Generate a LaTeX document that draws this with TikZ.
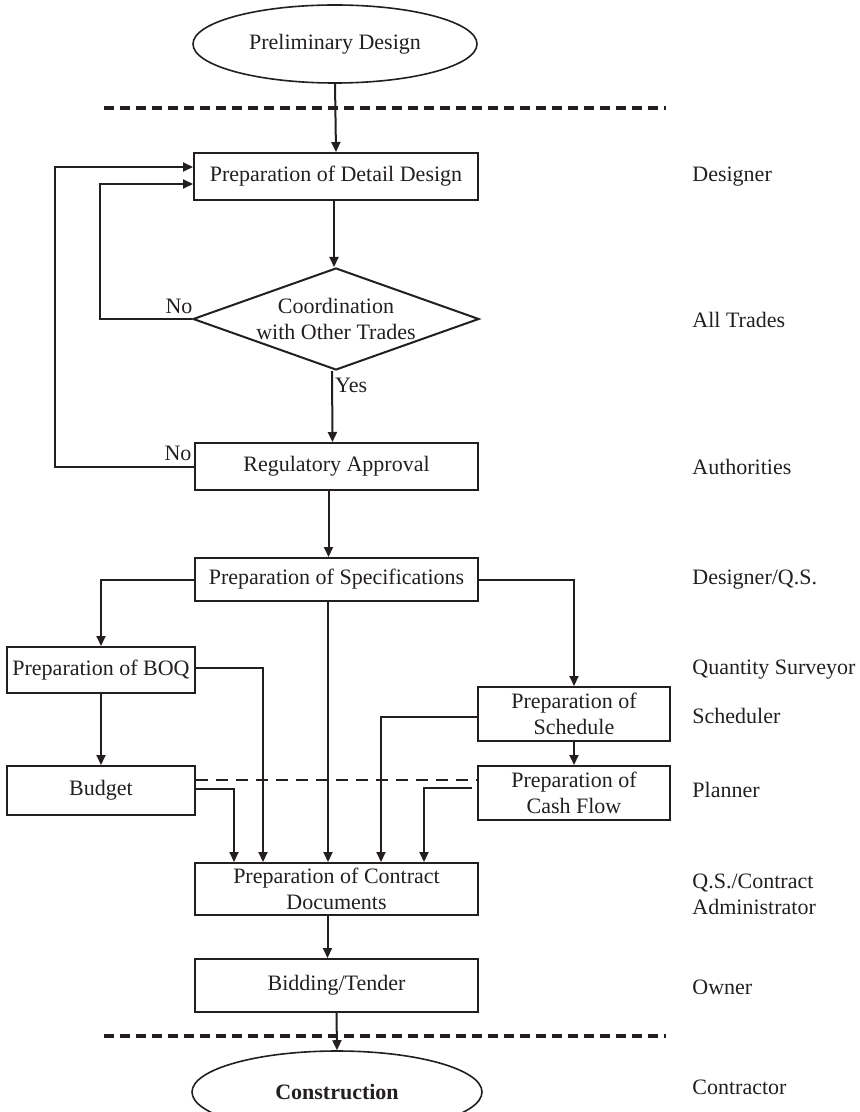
\documentclass[tikz,border=0pt]{standalone}
\usepackage{fontspec}
\setmainfont{Liberation Serif}
\usetikzlibrary{arrows.meta, positioning, shapes.geometric}
\definecolor{myink}{RGB}{35, 31, 32}

\begin{document}
\begin{tikzpicture}[x=0.5pt, y=-0.5pt,
    every node/.style={font=\fontsize{11}{13}\selectfont, text=myink, inner sep=1pt},
    box/.style={draw=myink, line width=1pt, align=center, minimum width=141.5pt, minimum height=23.5pt},
    sidebox/.style={box, minimum width=94pt},
    rightbox/.style={box, minimum width=96pt, minimum height=27pt},
    terminal/.style={draw=myink, line width=0.8pt, ellipse, minimum width=142pt, minimum height=39pt},
    decision/.style={draw=myink, line width=1pt, diamond, minimum width=143pt, minimum height=51pt, inner sep=0pt},
    link/.style={draw=myink, line width=1pt, -{Triangle[length=5pt, width=4.5pt]}},
    phase/.style={draw=myink, line width=2pt, dash pattern=on 5pt off 3pt},
    plan/.style={draw=myink, line width=1pt, dash pattern=on 6pt off 4pt}]

    \useasboundingbox (0,0) rectangle (860,1112);

    % Design stage
    \node[terminal] (PD) at (335,44) {Preliminary Design};
    \draw[phase] (104,108) -- (666,108);

    \node[box, minimum width=142pt] (DD) at (336,176.5) {Preparation of Detail Design};
    \node[decision] (CO) at (336,319) {};
    \node[align=center] at (CO) {Coordination\\with Other Trades};
    \node[box] (RA) at (336.5,466.5) {Regulatory Approval};

    \draw[link] (PD.south) -- (DD.north);
    \draw[link] ([xshift=-1pt]DD.south) -- ([xshift=-1pt]CO.north);
    \draw[link] ([xshift=-2pt]CO.south) -- ([xshift=-2pt]RA.north) node[pos=0.2, right] {Yes};

    % Loops back to the detail design
    \draw[link] (CO.west) -- ++(-92,0) |- ([yshift=-3.75pt]DD.west);
    \draw[link] (RA.west) -- ++(-139,0) |- ([yshift=4.75pt]DD.west);
    \node (NO1) at (179,306) {No};
    \node (NO2) at (178,453) {No};

    % Specification stage
    \node[box, minimum height=21.5pt] (SP) at (336.5,579.5) {Preparation of Specifications};
    \draw[link] ([xshift=-4pt]RA.south) -- ([xshift=-4pt]SP.north);

    \node[sidebox, minimum height=23pt] (BQ) at (101,670) {Preparation of BOQ};
    \node[sidebox, minimum height=24.5pt] (BU) at (101,790.5) {Budget};
    \node[rightbox] (SC) at (574,714) {Preparation of\\Schedule};
    \node[rightbox] (CF) at (574,793) {Preparation of\\Cash Flow};

    \draw[link] (SP.west) -| (BQ.north);
    \draw[link] (SP.east) -| (SC.north);
    \draw[link] (BQ) -- (BU);
    \draw[link] (SC) -- (CF);
    \draw[plan] ([yshift=5.25pt]BU.east) -- ([yshift=5.25pt]BU.east -| CF.west);

    % Contract stage
    \node[box, minimum height=26pt] (CD) at (336.5,889) {Preparation of Contract\\Documents};
    \draw[link] ([yshift=0.75pt]BU.east) -| ([xshift=-51.25pt]CD.north);
    \draw[link] ([yshift=1pt]BQ.east) -| ([xshift=-36.75pt]CD.north);
    \draw[link] ([xshift=-4.25pt]SP.south) -- ([xshift=-4.25pt]CD.north);
    \draw[link] ([yshift=-1.5pt]SC.west) -| ([xshift=22.25pt]CD.north);
    \draw[link] ([xshift=-2.5pt,yshift=2.5pt]CF.west) -| ([xshift=43.75pt]CD.north);

    \node[box, minimum height=26.5pt] (BT) at (336.5,985.5) {Bidding/Tender};
    \draw[link] ([xshift=-4.5pt]CD.south) -- ([xshift=-4.5pt]BT.north);

    \draw[phase] (104,1036) -- (666,1036);
    \node[terminal, minimum width=145pt, minimum height=41pt, font=\fontsize{11}{13}\selectfont\bfseries] (CN) at (337,1092) {Construction};
    \draw[link] (BT.south) -- (CN.north);

    % Who is responsible
    \foreach \ypos/\who [count=\i] in {177/Designer, 320/All Trades, 467/Authorities, 580/{Designer/Q.S.}, 670/Quantity Surveyor, 716/Scheduler, 790/Planner, 894.5/{Q.S./Contract\\Administrator}, 987/Owner, 1087/Contractor}
    {
        \node[anchor=west, align=left] (R\i) at (690,\ypos) {\who};
    }

\end{tikzpicture}
\end{document}
